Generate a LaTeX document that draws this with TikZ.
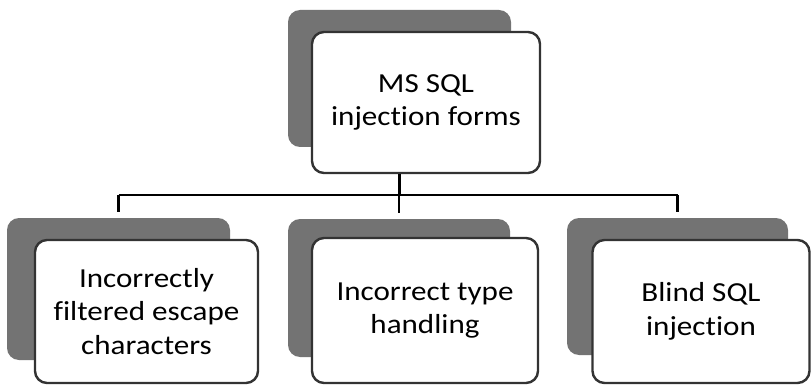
\documentclass[tikz,border=0pt]{standalone}
\usepackage{fontspec}
\setmainfont{Carlito}[FakeStretch=1.13, Ligatures=NoCommon]
\usetikzlibrary{positioning}
\tikzset{
    mynode/.style = {rectangle, rounded corners=12pt, line width=2.4pt, draw=black!80, fill=white, align=center, inner sep=0pt, text=black, font=\fontsize{27.5}{33.5}\selectfont},
    mynodesh/.style = {rectangle, rounded corners=12pt, draw=none, fill=black!55},
    edgen/.style = {-, line width=2.8pt, black}
}
\begin{document}
\begin{tikzpicture}[x=1pt,y=-1pt]
\useasboundingbox (0,0) rectangle (811,385);
% shadows
\node[mynodesh, minimum width=223pt, minimum height=137pt] at (399.5, 78.5) (topsh) {};
\node[mynodesh, minimum width=223pt, minimum height=142pt] at (118.5, 289.0) (leftsh) {};
\node[mynodesh, minimum width=222pt, minimum height=138pt] at (399.0, 288.0) (midsh) {};
\node[mynodesh, minimum width=221pt, minimum height=137pt] at (677.5, 286.5) (rightsh) {};
% boxes
\node[mynode, minimum width=228pt, minimum height=141pt] at (426.0, 102.5) (top) {MS SQL\\injection forms};
\node[mynode, minimum width=223pt, minimum height=143pt] at (146.5, 311.5) (left) {Incorrectly\\filtered escape\\characters};
\node[mynode, minimum width=226pt, minimum height=145pt] at (425.0, 310.5) (mid) {Incorrect type\\handling};
\node[mynode, minimum width=217pt, minimum height=143pt] at (701.0, 311.5) (right) {Blind SQL\\injection};
% connectors
\coordinate (bus) at (0, 195);
\draw[edgen] (topsh |- top.south) -- (topsh |- bus);
\draw[edgen] (leftsh |- bus) -- (rightsh |- bus);
\draw[edgen, shorten >=6pt] (leftsh |- bus) -- (leftsh.north);
\draw[edgen, shorten >=6pt] (midsh |- bus) -- (midsh.north);
\draw[edgen, shorten >=6pt] (rightsh |- bus) -- (rightsh.north);
\end{tikzpicture}
\end{document}
